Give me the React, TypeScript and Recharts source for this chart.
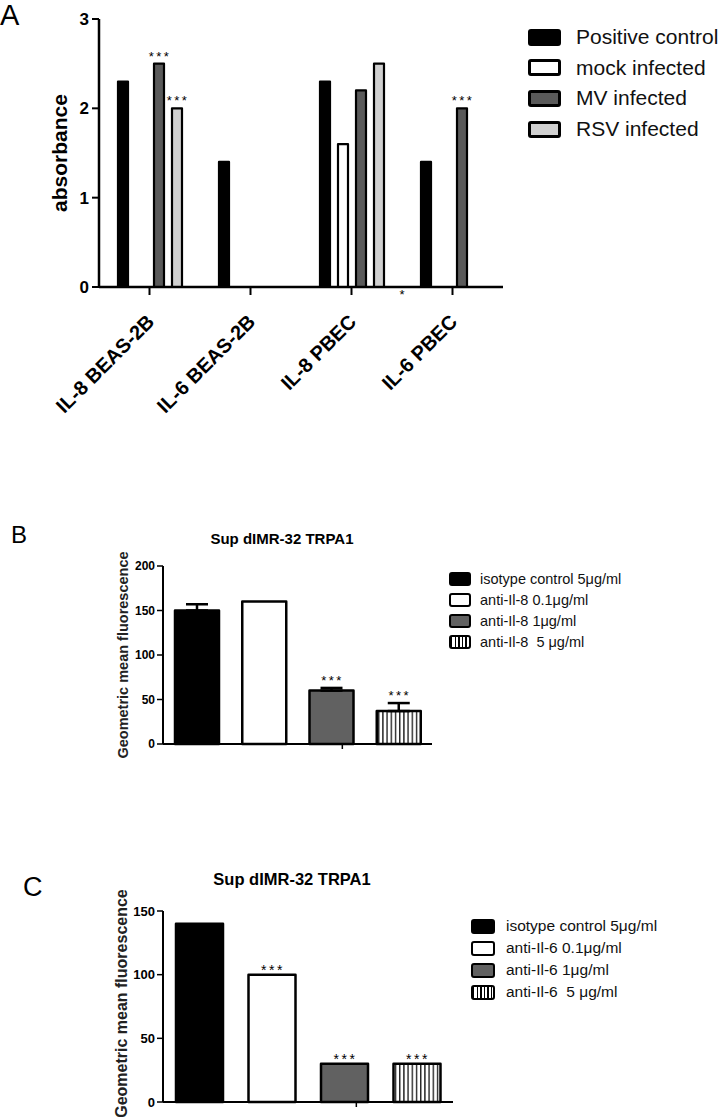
import React from "react";
import { BarChart, Bar, XAxis, YAxis, Cell, ErrorBar, LabelList, Label } from "recharts";

const FONT = '"Liberation Sans", Arial, Helvetica, sans-serif';

// panel A
const groupsA = ["IL-8 BEAS-2B", "IL-6 BEAS-2B", "IL-8 PBEC", "IL-6 PBEC"];
const seriesA = ["Positive control", "mock infected", "MV infected", "RSV infected"];
const positiveControl = [2.3, 1.4, 2.3, 1.4];
const mockInfected = [0, 0, 1.6, 0];
const mvInfected = [2.5, 0, 2.2, 2.0];
const rsvInfected = [2.0, 0, 2.5, 0];
const mvSig = ["***", "", "", "***"];
const rsvSig = ["***", "", "", ""];
const ticksA = [0, 1, 2, 3];

// panel B
const treatmentsB = ["isotype control 5μg/ml", "anti-Il-8 0.1μg/ml", "anti-Il-8 1μg/ml", "anti-Il-8  5 μg/ml"];
const meansB = [150, 160, 60, 37];
const semB = [7, 0, 3, 9];
const sigB = ["", "", "***", "***"];
const ticksB = [0, 50, 100, 150, 200];

// panel C
const treatmentsC = ["isotype control 5μg/ml", "anti-Il-6 0.1μg/ml", "anti-Il-6 1μg/ml", "anti-Il-6  5 μg/ml"];
const meansC = [140, 100, 30, 30];
const sigC = ["", "***", "***", "***"];
const ticksC = [0, 50, 100, 150];

const fillsA = ["#000", "#fff", "#5a5a5a", "#d0d0d0"];
const fillsBC = ["#000", "#fff", "#616161", "url(#vstripes)"];
const swatchBC = ["#000", "#fff", "#616161", "repeating-linear-gradient(90deg, #000 0 1.4px, #fff 1.4px 3.6px)"];

const rowsA = groupsA.map((name, i) => ({
  name,
  pos: positiveControl[i],
  mock: mockInfected[i],
  mv: mvInfected[i],
  rsv: rsvInfected[i],
  mvSig: mvSig[i],
  rsvSig: rsvSig[i],
}));

const rowsB = treatmentsB.map((name, i) => ({
  name,
  value: meansB[i],
  err: semB[i] ? [0, semB[i]] : null,
  top: meansB[i] + semB[i],
  sig: sigB[i],
}));

const rowsC = treatmentsC.map((name, i) => ({ name, value: meansC[i], sig: sigC[i] }));

const AngledTick = (props: any) => {
  const { x, y, payload } = props;
  const ax = x + 6;
  const ay = y + 26;
  return (
    <text
      x={ax}
      y={ay}
      transform={`rotate(-45, ${ax}, ${ay})`}
      textAnchor="end"
      fontSize={20}
      fontWeight="bold"
      fontFamily={FONT}
      fill="#000"
    >
      {payload.value}
    </text>
  );
};

// asterisks above a bar; `lift` in px, `extra` in data units (error bar height)
const stars = (size: number, lift: number, extra?: number[], vals?: number[]) => (props: any) => {
  const vb = props.viewBox ?? props;
  const s = props.value;
  if (!s || typeof s !== "string") return null;
  let top = vb.y;
  const i = props.index;
  if (extra && vals && vals[i]) top -= (extra[i] * vb.height) / vals[i];
  return (
    <text
      x={vb.x + vb.width / 2 + 1}
      y={top - lift}
      textAnchor="middle"
      fontSize={size}
      letterSpacing={2.5}
      fontFamily={FONT}
      fill="#000"
    >
      {s}
    </text>
  );
};

const noTick = () => <g />;

function Legend({ labels, fills, left, top, step, sw, sh, border, textLeft, fontSize }: any) {
  return (
    <>
      {labels.map((l: string, i: number) => (
        <div
          key={l}
          style={{
            position: "absolute",
            left,
            top: top + i * step - 15,
            height: 30,
            display: "flex",
            alignItems: "center",
            fontFamily: FONT,
            fontSize,
            color: "#111",
            whiteSpace: "pre",
          }}
        >
          <div
            style={{
              width: sw,
              height: sh,
              boxSizing: "border-box",
              border: `${border}px solid #000`,
              borderRadius: 3,
              background: fills[i],
              marginRight: textLeft - left - sw,
            }}
          />
          <span>{l}</span>
        </div>
      ))}
    </>
  );
}

const abs = (left: number, top: number, extra: React.CSSProperties = {}): React.CSSProperties => ({
  position: "absolute",
  left,
  top,
  fontFamily: FONT,
  lineHeight: 1,
  color: "#000",
  ...extra,
});

export default function App() {
  const axisLine = { stroke: "#000", strokeWidth: 2.5 };
  const tickLine = { stroke: "#000", strokeWidth: 2 };
  return (
    <div style={{ position: "absolute", left: 0, top: 0, width: 722, height: 1117, background: "#fff", overflow: "hidden" }}>
      <svg width={0} height={0} style={{ position: "absolute" }}>
        <defs>
          <pattern id="vstripes" patternUnits="userSpaceOnUse" width={4.2} height={10}>
            <rect x={0} y={0} width={4.2} height={10} fill="#fff" />
            <rect x={0} y={0} width={1.4} height={10} fill="#222" />
          </pattern>
        </defs>
      </svg>

      {/* A */}
      <div style={abs(0, 1, { fontSize: 29 })}>A</div>
      <div style={{ position: "absolute", left: 0, top: 0 }}>
        <BarChart
          width={722}
          height={420}
          data={rowsA}
          margin={{ top: 19, right: 219, bottom: 0, left: 0 }}
          barSize={10}
          barGap={8}
        >
          <XAxis
            dataKey="name"
            height={133}
            interval={0}
            axisLine={axisLine}
            tickLine={tickLine}
            tickSize={8}
            tickMargin={2}
            tick={(p: any) => <AngledTick {...p} />}
          />
          <YAxis
            width={99}
            domain={[0, 3]}
            ticks={ticksA}
            axisLine={axisLine}
            tickLine={tickLine}
            tickSize={7}
            tickMargin={3}
            tick={{ fill: "#000", fontSize: 17, fontWeight: 700, fontFamily: FONT }}
          >
            <Label
              value="absorbance"
              angle={-90}
              position="center"
              dx={10}
              style={{ fontSize: 21, fontWeight: 700, fontFamily: FONT, fill: "#000" }}
            />
          </YAxis>
          <Bar dataKey="pos" fill={fillsA[0]} stroke="#000" strokeWidth={2.2} strokeLinejoin="round" isAnimationActive={false} />
          <Bar dataKey="mock" fill={fillsA[1]} stroke="#000" strokeWidth={2.2} strokeLinejoin="round" isAnimationActive={false} />
          <Bar dataKey="mv" fill={fillsA[2]} stroke="#000" strokeWidth={2.2} strokeLinejoin="round" isAnimationActive={false}>
            <LabelList dataKey="mvSig" content={stars(13, 3)} />
          </Bar>
          <Bar dataKey="rsv" fill={fillsA[3]} stroke="#000" strokeWidth={2.2} strokeLinejoin="round" isAnimationActive={false}>
            <LabelList dataKey="rsvSig" content={stars(13, 3)} />
          </Bar>
        </BarChart>
      </div>
      <div style={abs(399.5, 288, { fontSize: 13 })}>*</div>
      <Legend labels={seriesA} fills={fillsA} left={528} top={37} step={30.7} sw={33} sh={17} border={3} textLeft={576} fontSize={21} />

      {/* B */}
      <div style={abs(11, 523, { fontSize: 24 })}>B</div>
      <div style={abs(182, 531, { fontSize: 15, fontWeight: 700, width: 200, textAlign: "center" })}>Sup dIMR-32 TRPA1</div>
      <div style={{ position: "absolute", left: 0, top: 540 }}>
        <BarChart width={722} height={240} data={rowsB} margin={{ top: 26, right: 290, bottom: 0, left: 0 }} barSize={44}>
          <XAxis dataKey="name" hide height={0} />
          <XAxis
            xAxisId="mid"
            type="number"
            domain={[0, 4]}
            ticks={[2]}
            allowDataOverflow
            height={36}
            axisLine={{ stroke: "#000", strokeWidth: 2 }}
            tickLine={{ stroke: "#000", strokeWidth: 1.5 }}
            tickSize={5}
            tick={noTick}
          />
          <YAxis
            width={163}
            domain={[0, 200]}
            ticks={ticksB}
            axisLine={{ stroke: "#000", strokeWidth: 2 }}
            tickLine={{ stroke: "#000", strokeWidth: 1.5 }}
            tickSize={6}
            tickMargin={2}
            tick={{ fill: "#000", fontSize: 12, fontWeight: 700, fontFamily: FONT }}
          >
            <Label
              value="Geometric mean fluorescence"
              angle={-90}
              position="center"
              dx={41}
              style={{ fontSize: 14.5, fontWeight: 700, fontFamily: FONT, fill: "#222" }}
            />
          </YAxis>
          <Bar dataKey="value" stroke="#000" strokeWidth={2.5} strokeLinejoin="round" isAnimationActive={false}>
            {rowsB.map((r, i) => (
              <Cell key={r.name} fill={fillsBC[i]} />
            ))}
            <ErrorBar dataKey="err" width={11} stroke="#000" strokeWidth={2.5} direction="y" />
            <LabelList dataKey="sig" content={stars(13, 3, semB, meansB)} />
          </Bar>
        </BarChart>
      </div>
      <Legend labels={treatmentsB} fills={swatchBC} left={449} top={579} step={21} sw={22} sh={14} border={2.5} textLeft={480} fontSize={14.5} />

      {/* C */}
      <div style={abs(23, 874, { fontSize: 27 })}>C</div>
      <div style={abs(192, 871, { fontSize: 16.5, fontWeight: 700, width: 200, textAlign: "center" })}>Sup dIMR-32 TRPA1</div>
      <div style={{ position: "absolute", left: 0, top: 880 }}>
        <BarChart width={722} height={237} data={rowsC} margin={{ top: 31, right: 269, bottom: 0, left: 0 }} barSize={47}>
          <XAxis dataKey="name" hide height={0} />
          <XAxis
            xAxisId="mid"
            type="number"
            domain={[0, 4]}
            ticks={[2]}
            allowDataOverflow
            height={15}
            axisLine={{ stroke: "#000", strokeWidth: 2 }}
            tickLine={{ stroke: "#000", strokeWidth: 1.5 }}
            tickSize={5}
            tick={noTick}
          />
          <YAxis
            width={163}
            domain={[0, 150]}
            ticks={ticksC}
            axisLine={{ stroke: "#000", strokeWidth: 2 }}
            tickLine={{ stroke: "#000", strokeWidth: 1.5 }}
            tickSize={6}
            tickMargin={2}
            tick={{ fill: "#000", fontSize: 13, fontWeight: 700, fontFamily: FONT }}
          >
            <Label
              value="Geometric mean fluorescence"
              angle={-90}
              position="center"
              dx={40}
              dy={-3}
              style={{ fontSize: 16, fontWeight: 700, fontFamily: FONT, fill: "#222" }}
            />
          </YAxis>
          <Bar dataKey="value" stroke="#000" strokeWidth={2.5} strokeLinejoin="round" isAnimationActive={false}>
            {rowsC.map((r, i) => (
              <Cell key={r.name} fill={fillsBC[i]} />
            ))}
            <LabelList dataKey="sig" content={stars(14, 0)} />
          </Bar>
        </BarChart>
      </div>
      <Legend labels={treatmentsC} fills={swatchBC} left={471} top={926} step={22} sw={24} sh={15} border={2.5} textLeft={506} fontSize={15.5} />
    </div>
  );
}
